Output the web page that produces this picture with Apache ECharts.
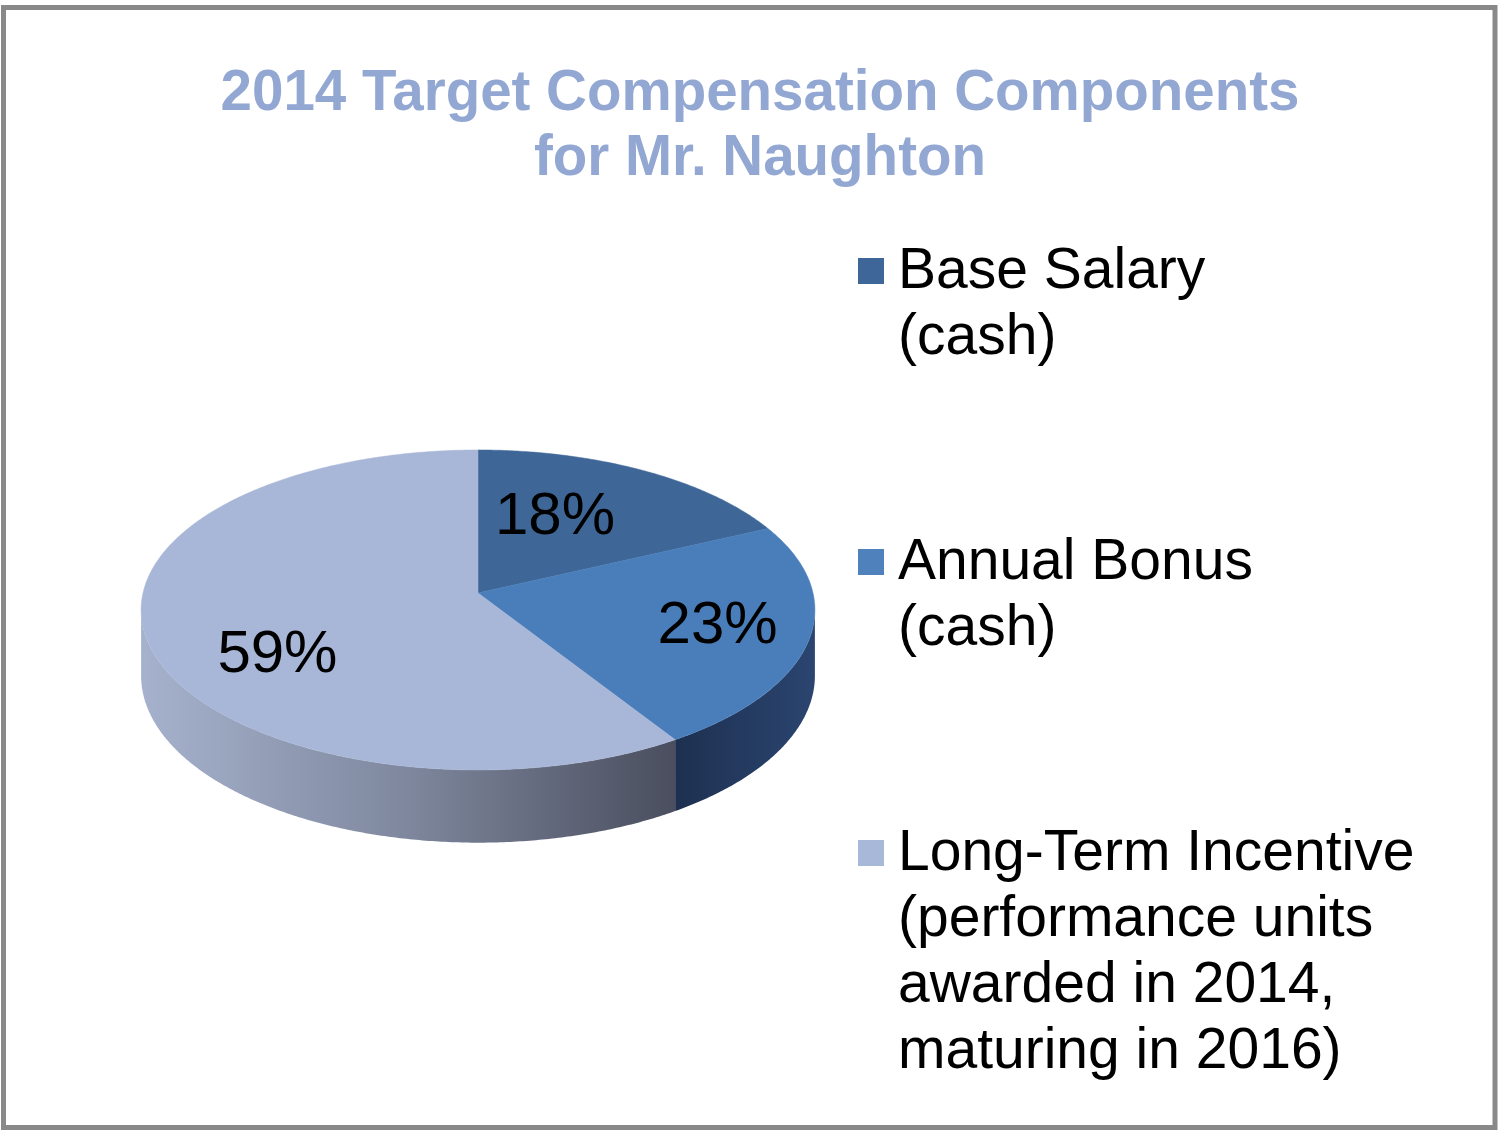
<!DOCTYPE html>
<html><head><meta charset="utf-8">
<script src="https://cdn.jsdelivr.net/npm/echarts@6/dist/echarts.min.js"></script>
<style>html,body{margin:0;padding:0;background:#fff}#chart{width:1500px;height:1136px}</style>
</head><body><div id="chart"></div>
<script>
// ---- data ----
const titleLines = ['2014 Target Compensation Components', 'for Mr. Naughton'];
const categories = ['Base Salary\n(cash)', 'Annual Bonus\n(cash)', 'Long-Term Incentive\n(performance units\nawarded in 2014,\nmaturing in 2016)'];
const values = [18, 23, 59];

// ---- style ----
const topColors = ['#3E6798', '#4A7EBB', '#A8B7D7'];
const legendColors = ['#3E6699', '#4F81BD', '#A7B8D9'];
const sideStops = [
  [[0, '#2A4570'], [1, '#1C2E4C']],
  [[0, '#1D3050'], [1, '#2B4570']],
  [[0, '#A6B2CD'], [0.5, '#7E879D'], [1, '#4A4E5E']]
];
const labelRadius = [0.56, 0.73, 0.687];
const labelAngleShift = [-6.8, 0.5, -17];
const FONT = '"Liberation Sans", Arial, sans-serif';

// geometry of the tilted pie (perspective projection of a disc)
const CX = 478, CY = 593, A = 335, B = 158.2, K = 0.106, H = 65;
const total = values.reduce((s, v) => s + v, 0);
const cum = [];
values.reduce((s, v, i) => { cum[i] = s; return s + v; }, 0);

function proj(t, f) {
  const w = 1 + K * f * Math.cos(t);
  return [CX + A * f * Math.sin(t) / w, CY - B * f * Math.cos(t) / w];
}
function projBottom(t) {
  const p = proj(t, 1);
  const w = 1 + K * Math.cos(t);
  return [p[0], p[1] + H / w];
}
function arc(a0, a1, fn) {
  const pts = [];
  const n = Math.max(2, Math.ceil(Math.abs(a1 - a0) / (Math.PI / 360)));
  for (let i = 0; i <= n; i++) pts.push(fn(a0 + (a1 - a0) * i / n));
  return pts;
}
const visL = Math.acos(-K), visR = 2 * Math.PI - Math.acos(-K);

function renderItem(params, api) {
  const i = params.dataIndex;
  const v = api.value(0);
  const a0 = cum[i] / total * 2 * Math.PI;
  const a1 = (cum[i] + v) / total * 2 * Math.PI;
  const children = [];
  // side wall
  const s0 = Math.max(a0, visL), s1 = Math.min(a1, visR);
  if (s1 > s0) {
    const topPts = arc(s0, s1, t => proj(t, 1));
    const botPts = arc(s1, s0, projBottom);
    const xs = topPts.map(p => p[0]);
    const x0 = Math.min.apply(null, xs), x1 = Math.max.apply(null, xs);
    children.push({
      type: 'polygon',
      shape: { points: topPts.concat(botPts) },
      style: { fill: new echarts.graphic.LinearGradient(x0, 0, x1, 0, sideStops[i].map(s => ({ offset: s[0], color: s[1] })), true) }
    });
  }
  // top face
  const pts = [proj(0, 0)].concat(arc(a0, a1, t => proj(t, 1)));
  children.push({
    type: 'polygon',
    shape: { points: pts },
    style: { fill: topColors[i], stroke: topColors[i], lineWidth: 0.5 },
    z2: 10
  });
  // label
  const mid = (a0 + a1) / 2 + labelAngleShift[i] * Math.PI / 180;
  const lp = proj(mid, labelRadius[i]);
  children.push({
    type: 'text',
    z2: 20,
    style: {
      text: Math.round(v / total * 100) + '%',
      x: lp[0], y: lp[1],
      align: 'center', verticalAlign: 'middle',
      font: '60px ' + FONT, fill: '#000'
    }
  });
  return { type: 'group', children };
}

// legend graphics
const legendX = 858, legendFirstY = [271, 562, 853], lineH = 66;
const graphics = [
  { type: 'rect', shape: { x: 3.5, y: 7.5, width: 1491.5, height: 1120 }, style: { fill: 'none', stroke: '#898989', lineWidth: 5 }, z: 0 },
  { type: 'text', style: { text: titleLines.join('\n'), x: 760, y: 94 - 32.5, align: 'center', verticalAlign: 'top', font: 'bold 56.5px ' + FONT, fill: '#93A7D3', lineHeight: 65 } }
];
categories.forEach((c, i) => {
  graphics.push({ type: 'rect', shape: { x: legendX, y: legendFirstY[i] - 13, width: 26, height: 26 }, style: { fill: legendColors[i] } });
  graphics.push({ type: 'text', style: { text: c, x: 898, y: legendFirstY[i] + 1 - lineH / 2, align: 'left', verticalAlign: 'top', font: '57px ' + FONT, fill: '#000', lineHeight: lineH } });
});

const chart = echarts.init(document.getElementById('chart'), null, { renderer: 'canvas' });
chart.setOption({
  backgroundColor: '#fff',
  animation: false,
  graphic: graphics,
  series: [{
    type: 'custom',
    coordinateSystem: 'none',
    renderItem: renderItem,
    data: values
  }]
});
</script></body></html>
